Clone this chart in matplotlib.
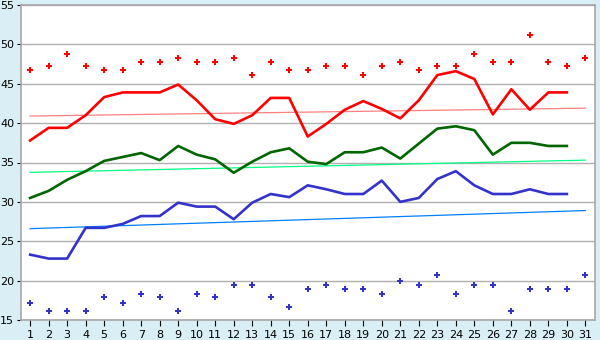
import matplotlib
matplotlib.use("Agg")
import matplotlib.pyplot as plt
import numpy as np

days = list(range(1, 32))
day_labels = [str(d) for d in days]

max_line = [37.8, 39.4, 39.4, 41.0, 43.3, 43.9, 43.9, 43.9, 44.9, 42.9,
            40.5, 39.9, 41.0, 43.2, 43.2, 38.3, 39.9, 41.7, 42.8, 41.8,
            40.6, 42.9, 46.1, 46.6, 45.6, 41.1, 44.3, 41.7, 43.9, 43.9]
mean_line = [30.5, 31.4, 32.8, 33.9, 35.2, 35.7, 36.2, 35.3, 37.1, 36.0,
             35.4, 33.7, 35.1, 36.3, 36.8, 35.1, 34.8, 36.3, 36.3, 36.9,
             35.5, 37.4, 39.3, 39.6, 39.1, 36.0, 37.5, 37.5, 37.1, 37.1]
min_line = [23.3, 22.8, 22.8, 26.7, 26.7, 27.2, 28.2, 28.2, 29.9, 29.4,
            29.4, 27.8, 29.9, 31.0, 30.6, 32.1, 31.6, 31.0, 31.0, 32.7,
            30.0, 30.5, 32.9, 33.9, 32.1, 31.0, 31.0, 31.6, 31.0, 31.0]
record_max = [46.7, 47.2, 48.8, 47.2, 46.7, 46.7, 47.8, 47.8, 48.3, 47.8,
              47.8, 48.3, 46.1, 47.8, 46.7, 46.7, 47.2, 47.2, 46.1, 47.2,
              47.8, 46.7, 47.2, 47.2, 48.8, 47.8, 47.8, 51.2, 47.8, 47.2, 48.3]
record_min = [17.2, 16.1, 16.1, 16.1, 17.9, 17.2, 18.3, 17.9, 16.1, 18.3,
              17.9, 19.4, 19.4, 17.9, 16.7, 18.9, 19.4, 18.9, 18.9, 18.3,
              20.0, 19.4, 20.7, 18.3, 19.4, 19.4, 16.1, 18.9, 18.9, 18.9, 20.7]
# normal (trend) values at first and last day
normal_max = [40.9, 41.9]
normal_mean = [33.75, 35.3]
normal_min = [26.6, 28.9]

fig = plt.figure(figsize=(6, 3.4), dpi=100)
fig.patch.set_facecolor("#d9eef5")
ax = fig.add_axes([20.5/600, 20/340, (595-20.5)/600, (320-5)/340])
ax.set_facecolor("white")

d30 = days[:len(max_line)]
ends = [days[0], days[-1]]
ax.plot(ends, normal_max, color="#ff8080", lw=0.9, zorder=2)
ax.plot(ends, normal_mean, color="#00ff80", lw=0.9, zorder=2)
ax.plot(ends, normal_min, color="#0080ff", lw=0.9, zorder=2)

ax.plot(d30, max_line, color="#ff0000", lw=1.9, zorder=3)
ax.plot(d30, mean_line, color="#006600", lw=1.9, zorder=3)
ax.plot(d30, min_line, color="#3333cc", lw=1.9, zorder=3)

ax.plot(days, record_max, linestyle="none", marker="P", ms=5, color="#ff0000", mew=0, zorder=4)
ax.plot(days, record_min, linestyle="none", marker="P", ms=5, color="#3333cc", mew=0, zorder=4)

ax.set_xlim(0.48, 31.52)
ax.set_ylim(15, 55)
ax.set_yticks(range(15, 56, 5))
ax.set_xticks(days)
ax.set_xticklabels(day_labels)
ax.yaxis.grid(True, color="#b0b0b0", lw=1)
ax.set_axisbelow(True)
for s in ax.spines.values():
    s.set_color("#a8a8a8")
    s.set_linewidth(1.2)
ax.tick_params(axis="both", colors="black", labelsize=8, width=0.8)
ax.tick_params(axis="y", length=3, pad=1.5)
ax.tick_params(axis="x", length=4, pad=3)

fig.savefig("out.png", dpi=100, facecolor=fig.get_facecolor())
